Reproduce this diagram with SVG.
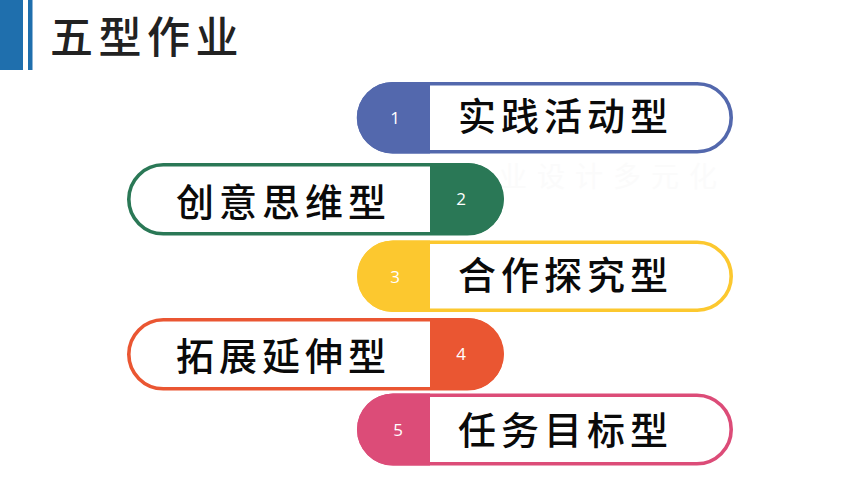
<svg xmlns="http://www.w3.org/2000/svg" width="860" height="484" viewBox="0 0 860 484">
<style>
.cjk{font-family:"Noto Sans CJK SC","Noto Sans CJK TC",sans-serif;font-weight:500;fill:#0a0a0a}
.lab{font-size:38px;letter-spacing:5px}
.num{font-family:"Open Sans","Noto Sans",sans-serif;font-size:17px;fill:#fff;text-anchor:middle}
.pill{fill:#fff;stroke-width:3.6}
</style>
<rect width="860" height="484" fill="#fff"/>
<g id="title-bar"><rect x="0" y="0" width="23" height="70" fill="#1f6fad"/><rect x="28" y="0" width="4.500" height="70" fill="#1f6fad"/></g>
<text id="title" class="cjk" x="50" y="53" font-size="43" letter-spacing="5.500" style="fill:#222">五型作业</text>
<text id="watermark" x="499" y="187" font-size="28" letter-spacing="10" fill="#fbfbfb" font-family="'Noto Sans CJK SC',sans-serif">业设计多元化</text>
<g id="node1">
<rect class="pill" x="358.800" y="83.800" width="372.400" height="68" rx="34" stroke="#5368ad"/>
<path d="M430 82H392.500a35.750 35.750 0 0 0 0 71.500H430Z" fill="#5368ad"/>
<text class="num" x="395" y="124">1</text>
<text class="cjk lab" x="458" y="130">实践活动型</text>
</g>
<g id="node2">
<rect class="pill" x="128.800" y="164.800" width="373" height="69" rx="34.500" stroke="#2a7856"/>
<path d="M430 163H468a36 36 0 0 1 0 72H430Z" fill="#2a7856"/>
<text class="num" x="461" y="205">2</text>
<text class="cjk lab" x="176" y="216">创意思维型</text>
</g>
<g id="node3">
<rect class="pill" x="358.800" y="242.300" width="372.400" height="68" rx="34" stroke="#fcc82f"/>
<path d="M430 240.500H393a35.750 35.750 0 0 0 0 71.500H430Z" fill="#fcc82f"/>
<text class="num" x="395" y="283">3</text>
<text class="cjk lab" x="458" y="289">合作探究型</text>
</g>
<g id="node4">
<rect class="pill" x="128.800" y="319.800" width="373" height="69" rx="34.500" stroke="#ea5632"/>
<path d="M430 318H468a36 36 0 0 1 0 72H430Z" fill="#ea5632"/>
<text class="num" x="461" y="360">4</text>
<text class="cjk lab" x="176" y="370">拓展延伸型</text>
</g>
<g id="node5">
<rect class="pill" x="358.800" y="395.300" width="372.400" height="68.500" rx="34.250" stroke="#dc4c78"/>
<path d="M430 393.500H393a36 36 0 0 0 0 72H430Z" fill="#dc4c78"/>
<text class="num" x="398" y="436">5</text>
<text class="cjk lab" x="458" y="444">任务目标型</text>
</g>
<g id="connectors"/>
</svg>
